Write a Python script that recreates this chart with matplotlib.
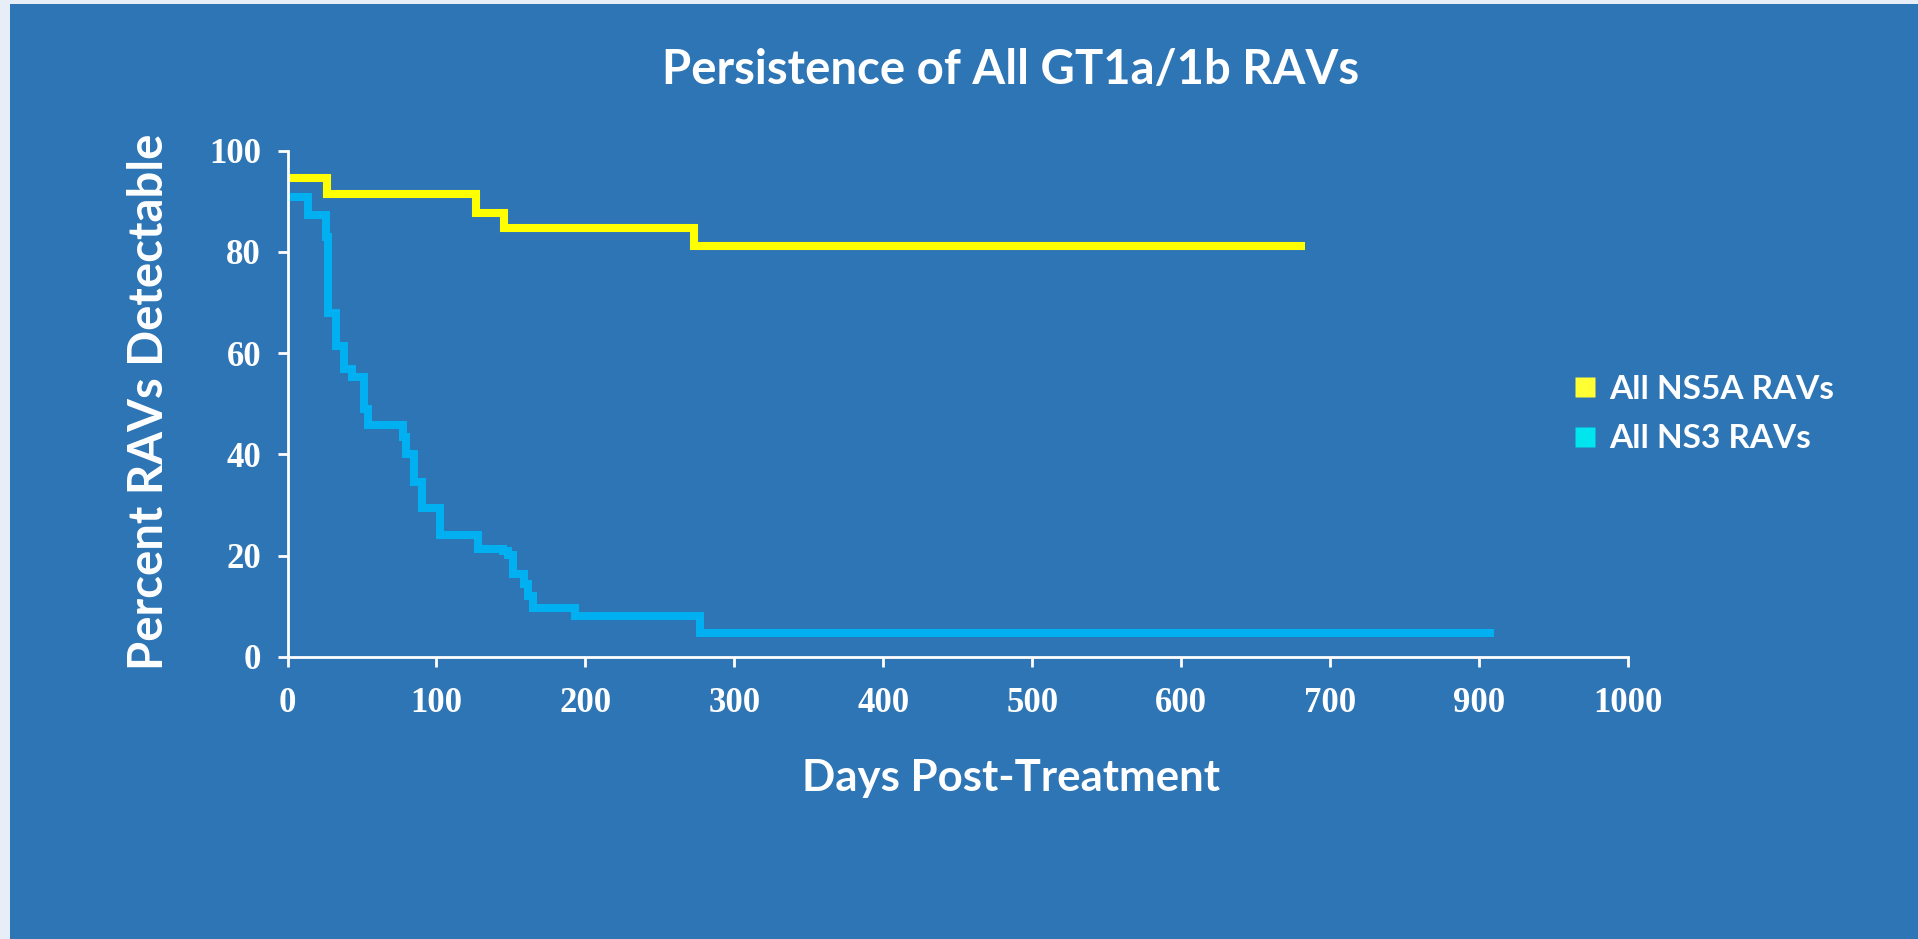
import matplotlib
matplotlib.use("Agg")
import matplotlib.pyplot as plt
from matplotlib.lines import Line2D
from matplotlib.patches import Rectangle

# step data (x in axis units, y in percent)
ns5a_days = [0, 26.7, 126.5, 145.5, 272.7, 683]
ns5a_pct = [94.7, 91.4, 87.7, 84.8, 81.2, 81.2]

ns3_days = [0, 14, 25.9, 27.4, 32.8, 38, 43, 51.6, 54.3, 77.4, 79.4, 84.6, 90.4,
            102.5, 128.2, 145, 148, 151.3, 158.5, 161.2, 164.5, 192.7, 277.2, 810]
ns3_pct = [90.9, 87.3, 83.0, 68.0, 61.4, 56.8, 55.3, 48.9, 45.7, 43.4, 40.1, 34.6, 29.4,
           24.0, 21.3, 20.8, 20.2, 16.3, 14.4, 12.1, 9.7, 8.0, 4.7, 4.7]

x_ticks = [0, 100, 200, 300, 400, 500, 600, 700, 800, 900]
x_tick_labels = ["0", "100", "200", "300", "400", "500", "600", "700", "900", "1000"]
y_ticks = [0, 20, 40, 60, 80, 100]

series_names = ["All NS5A RAVs", "All NS3 RAVs"]
legend_colors = ["#FFFF33", "#00E5EE"]

bg = "#2E75B6"
sans = "Lato"
serif = "Liberation Serif"

fig = plt.figure(figsize=(19.18, 9.39), dpi=100)
fig.patch.set_facecolor("#E8EEF7")
fig.patches.append(Rectangle((10 / 1918, 0), 1, 1 - 4 / 939, transform=fig.transFigure,
                             facecolor=bg, edgecolor="none", zorder=-5))

ax = fig.add_axes([0.1499, 0.3006, 0.6989, 0.5389])
ax.set_zorder(2)
ax.set_facecolor(bg)

ax.plot(ns5a_days, ns5a_pct, drawstyle="steps-post", color="#FFFF00", lw=5.8,
        solid_capstyle="butt", solid_joinstyle="miter", clip_on=False)
ax.plot(ns3_days, ns3_pct, drawstyle="steps-post", color="#00B0F0", lw=5.8,
        solid_capstyle="butt", solid_joinstyle="miter", clip_on=False)

ax.set_xlim(0, 900)
ax.set_ylim(0, 100)
ax.set_xticks(x_ticks)
ax.set_xticklabels(x_tick_labels)
ax.set_yticks(y_ticks)

for s in ["top", "right"]:
    ax.spines[s].set_visible(False)
for s in ["left", "bottom"]:
    ax.spines[s].set_color("white")
    ax.spines[s].set_linewidth(2)

ax.tick_params(axis="both", colors="white", direction="out", length=7, width=2)
ax.tick_params(axis="x", pad=15)
ax.tick_params(axis="y", pad=12)
for lab in ax.get_xticklabels() + ax.get_yticklabels():
    lab.set_fontfamily(serif)
    lab.set_fontweight("bold")
    lab.set_fontsize(25)
    lab.set_color("white")

fig.text(0.527, 1 - 70 / 939, "Persistence of All GT1a/1b RAVs", ha="center", va="center",
         color="white", fontsize=34, fontweight="bold", family=sans)
fig.text(0.527, 1 - 778 / 939, "Days Post-Treatment", ha="center", va="center",
         color="white", fontsize=31.5, fontweight="bold", family=sans)
fig.text(149 / 1918, 1 - 402 / 939, "Percent RAVs Detectable", ha="center", va="center",
         rotation=90, color="white", fontsize=34, fontweight="bold", family=sans)

handles = [Line2D([], [], marker="s", linestyle="none", markersize=15,
                  markerfacecolor=c, markeredgecolor="none") for c in legend_colors]
leg = fig.legend(handles, series_names, loc="center left",
                 bbox_to_anchor=(1573 / 1918, 1 - 414 / 939), frameon=False,
                 prop={"family": sans, "weight": "bold", "size": 24},
                 handlelength=0.7, handletextpad=0.4, labelspacing=0.62,
                 borderpad=0, borderaxespad=0)
for t in leg.get_texts():
    t.set_color("white")

fig.savefig("out.png", dpi=100, facecolor=fig.get_facecolor())
